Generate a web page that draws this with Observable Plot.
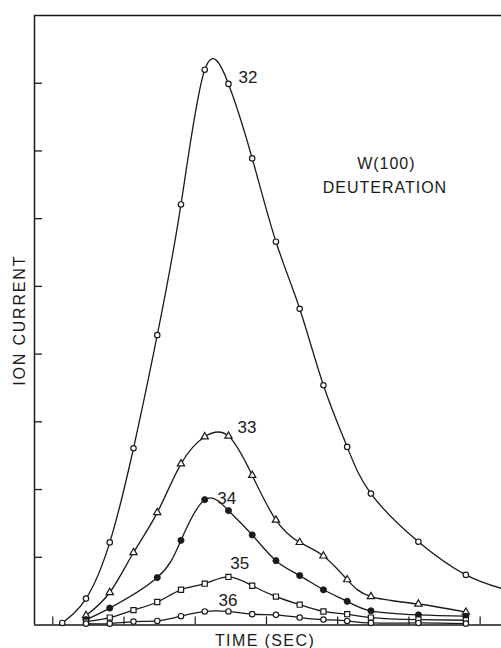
<!DOCTYPE html>
<html><head><meta charset="utf-8">
<script src="https://cdn.jsdelivr.net/npm/d3@7"></script>
<script src="https://cdn.jsdelivr.net/npm/@observablehq/plot@0.6"></script>
<style>
html,body{margin:0;padding:0;background:#fff;}
#chart svg{display:block;}
</style></head><body><div id="chart"></div>
<script>
// ---- data ----
const timeTicks = [0, 3, 6, 9, 12, 15, 18];
const currentTicks = [1, 2, 3, 4, 5, 6, 7, 8];
const timeDomain = [-0.77, 18.9];
const currentDomain = [0, 9];

const time32 = [0.4, 1.4, 2.4, 3.4, 4.4, 5.4, 6.4, 7.4, 8.4, 9.4, 10.4, 11.4, 12.4, 13.4, 15.4, 17.4];
const ion32  = [0.03, 0.39, 1.22, 2.61, 4.28, 6.21, 8.20, 7.99, 6.89, 5.66, 4.67, 3.54, 2.63, 1.94, 1.23, 0.74];
const tail32 = {time: 18.9, ion: 0.54}; // where the drawn 32 curve leaves the frame (no marker)

const time33 = [1.4, 2.4, 3.4, 4.4, 5.4, 6.4, 7.4, 8.4, 9.4, 10.4, 11.4, 12.4, 13.4, 15.4, 17.4];
const ion33  = [0.14, 0.48, 1.07, 1.66, 2.38, 2.78, 2.79, 2.21, 1.55, 1.22, 1.02, 0.67, 0.42, 0.31, 0.19];

const time34 = [1.4, 2.4, 4.4, 5.4, 6.4, 7.4, 8.4, 9.4, 10.4, 11.4, 12.4, 13.4, 15.4, 17.4];
const ion34  = [0.08, 0.25, 0.70, 1.25, 1.85, 1.69, 1.33, 0.95, 0.73, 0.52, 0.35, 0.21, 0.15, 0.13];

const time35 = [1.4, 2.4, 3.4, 4.4, 5.4, 6.4, 7.4, 8.4, 9.4, 10.4, 11.4, 12.4, 13.4, 15.4, 17.4];
const ion35  = [0.05, 0.11, 0.22, 0.34, 0.52, 0.61, 0.71, 0.58, 0.42, 0.30, 0.20, 0.16, 0.11, 0.08, 0.07];

const time36 = [1.4, 2.4, 3.4, 4.4, 5.4, 6.4, 7.4, 8.4, 9.4, 10.4, 11.4, 12.4, 13.4, 15.4, 17.4];
const ion36  = [0.02, 0.02, 0.05, 0.06, 0.13, 0.20, 0.20, 0.16, 0.15, 0.11, 0.08, 0.06, 0.03, 0.03, 0.02];

const seriesNames = ["32", "33", "34", "35", "36"];
const labelTime = [7.82, 7.78, 6.93, 7.48, 6.98];
const labelIon  = [8.08, 2.91, 1.86, 0.91, 0.36];

const noteLines = ["W(100)", "DEUTERATION"];
const noteTime = [14.05, 13.99];
const noteIon  = [6.81, 6.46];

const xTitle = "TIME (SEC)";
const yTitle = "ION CURRENT";

// ---- tables ----
const rows = (ts, vs) => ts.map((t, i) => ({t, v: vs[i]}));
const r32 = rows(time32, ion32);
const r32line = [...r32, {t: tail32.time, v: tail32.ion}];
const r33 = rows(time33, ion33);
const r34 = rows(time34, ion34);
const r35 = rows(time35, ion35);
const r36 = rows(time36, ion36);
const seriesLabels = seriesNames.map((s, i) => ({s, t: labelTime[i], v: labelIon[i]}));
const notes = noteLines.map((s, i) => ({s, t: noteTime[i], v: noteIon[i]}));

const ink = "#1a1a1a";
const lineOpts = {x: "t", y: "v", curve: "natural", stroke: ink, strokeWidth: 1.3};
const openDot = {x: "t", y: "v", fill: "white", stroke: ink, strokeWidth: 1.2};

const chart = Plot.plot({
  width: 501,
  height: 648,
  marginLeft: 34,
  marginRight: 0,
  marginTop: 15,
  marginBottom: 23.5,
  style: {fontFamily: "'Liberation Sans', Arial, sans-serif", background: "white", color: ink},
  x: {domain: timeDomain},
  y: {domain: currentDomain},
  marks: [
    Plot.line(r32line, lineOpts),
    Plot.line(r33, lineOpts),
    Plot.line(r34, lineOpts),
    Plot.line(r35, lineOpts),
    Plot.line(r36, lineOpts),
    Plot.ruleY([currentDomain[0]], {stroke: ink, strokeWidth: 1.6}),
    Plot.ruleY([currentDomain[1]], {stroke: ink, strokeWidth: 1.4}),
    Plot.ruleX([timeDomain[0]], {stroke: ink, strokeWidth: 1.5}),
    Plot.axisY(currentTicks, {tickSize: 8, dx: 8, tickFormat: () => "", label: null, stroke: ink, strokeWidth: 1.3}),
    Plot.axisX(timeTicks, {tickSize: 8, dy: -8, tickFormat: () => "", label: null, stroke: ink, strokeWidth: 1.2}),
    Plot.dot(r32, {...openDot, symbol: "circle", r: 2.7}),
    Plot.dot(r33, {...openDot, symbol: "triangle", r: 2.7}),
    Plot.dot(r34, {x: "t", y: "v", symbol: "circle", r: 3.1, fill: ink, stroke: ink, strokeWidth: 0.8}),
    Plot.dot(r35, {...openDot, symbol: "square", r: 2.9}),
    Plot.dot(r36, {...openDot, symbol: "circle", r: 2.7}),
    Plot.text(seriesLabels, {x: "t", y: "v", text: "s", textAnchor: "start", fontSize: 17, fill: ink}),
    Plot.text(notes, {x: "t", y: "v", text: "s", fontSize: 16, fill: ink}),
    Plot.text([yTitle], {frameAnchor: "left", textAnchor: "middle", lineAnchor: "middle", dx: -15, rotate: -90, fontSize: 16, fill: ink}),
    Plot.text([xTitle], {frameAnchor: "bottom", textAnchor: "middle", lineAnchor: "middle", dx: -3, dy: 16, fontSize: 16, fill: ink})
  ]
});
document.getElementById("chart").appendChild(chart);
// letter spacing to mimic the lettering-guide text
const spacing = new Map([[yTitle, "1.8px"], [xTitle, "1.4px"], [noteLines[0], "1px"], [noteLines[1], "1px"]]);
d3.select(chart).selectAll("text").each(function(){
  const s = spacing.get(this.textContent);
  if (s) d3.select(this).attr("letter-spacing", s);
});
</script>
</body></html>
